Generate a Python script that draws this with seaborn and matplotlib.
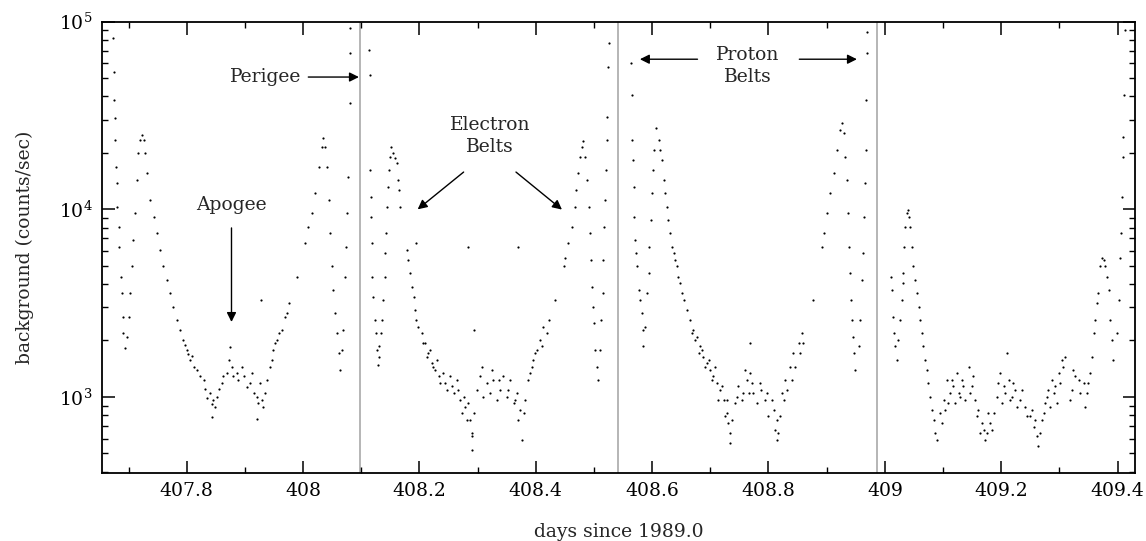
import numpy as np
import pandas as pd
import matplotlib
matplotlib.use('Agg')
import matplotlib.pyplot as plt
import matplotlib.ticker as mticker
import seaborn as sns

# background rate, one list pair per orbit
orbit1_days = [
    407.674, 407.675, 407.675, 407.676, 407.677, 407.679, 407.680, 407.681, 407.683, 407.684,
    407.687, 407.688, 407.690, 407.691, 407.694,
    407.697, 407.700, 407.703, 407.706, 407.708, 407.711, 407.714, 407.717, 407.720, 407.723,
    407.726, 407.728, 407.731, 407.737, 407.743, 407.749, 407.754, 407.760, 407.766, 407.772,
    407.777, 407.783, 407.789, 407.794, 407.800, 407.806, 407.817, 407.829, 407.840, 407.846,
    407.852, 407.860, 407.869, 407.878, 407.886, 407.898, 407.909, 407.920, 407.929, 407.938,
    407.943, 407.949, 407.955, 407.963, 407.969, 407.975, 407.989, 408.004, 408.009, 408.015,
    408.021, 408.027, 408.032, 408.035, 408.038, 408.041, 408.044, 408.047, 408.049, 408.052,
    408.055, 408.058, 408.061, 408.063, 408.067, 408.069, 408.072, 408.074, 408.076, 408.078,
    408.080, 408.081, 408.081,
    407.797, 407.803, 407.809, 407.812, 407.823, 407.832, 407.835, 407.843, 407.849, 407.855,
    407.863, 407.872, 407.875, 407.880, 407.889, 407.895, 407.903, 407.912, 407.915, 407.923,
    407.926, 407.932, 407.935, 407.946, 407.952, 407.958, 407.972, 407.928, 407.843, 407.920,
]
orbit1_counts = [
    81600, 54200, 38300, 30600, 23400, 16900, 13800, 10300, 8090, 6330,
    4380, 3570, 2680, 2190, 1820,
    2100, 2680, 3570, 4960, 6870, 9530, 14300, 19900, 23400, 24900,
    23400, 19900, 15600, 11200, 9150, 7460, 6080, 4960, 4210, 3570,
    3030, 2580, 2280, 2010, 1780, 1580, 1390, 1230, 1050, 965,
    1000, 1190, 1340, 1450, 1340, 1290, 1180, 1000, 965, 1230,
    1450, 1780, 2010, 2280, 2680, 3160, 4380, 6590, 8090, 9530,
    12200, 16900, 21600, 23900, 21600, 16900, 11200, 7460, 4960, 3720,
    2790, 2190, 1710, 1390, 1780, 2280, 4380, 6330, 9530, 14900,
    36700, 67800, 92300,
    1900, 1700, 1650, 1450, 1290, 1100, 985, 920, 880, 1100,
    1290, 1580, 1850, 1290, 1230, 1450, 1130, 1340, 1050, 930,
    1180, 880, 1050, 1580, 1950, 2190, 2800, 3290, 780, 760,
]

orbit2_days = [
    408.113, 408.115, 408.115, 408.116, 408.117, 408.118, 408.119, 408.121, 408.123, 408.125,
    408.127, 408.128,
    408.130, 408.131, 408.134, 408.136, 408.138, 408.140, 408.141, 408.143, 408.145, 408.146,
    408.147, 408.150, 408.152,
    408.155, 408.158, 408.161, 408.163, 408.165, 408.166,
    408.178, 408.181, 408.184, 408.187, 408.190, 408.193, 408.195, 408.198, 408.204, 408.210,
    408.215, 408.221, 408.227, 408.233, 408.244, 408.256, 408.267, 408.279, 408.287, 408.290,
    408.290,
    408.307, 408.324, 408.336, 408.353, 408.364, 408.373, 408.376,
    408.387, 408.393, 408.399, 408.410, 408.419, 408.422, 408.433, 408.448, 408.450, 408.456,
    408.462, 408.468, 408.470, 408.473, 408.476, 408.479, 408.482,
    408.485, 408.488, 408.491, 408.493, 408.495, 408.496, 408.498, 408.500, 408.502, 408.505,
    408.507,
    408.511, 408.512, 408.515, 408.516, 408.518, 408.519, 408.520, 408.522, 408.523, 408.525,
    408.526,
    408.207, 408.213, 408.218, 408.224, 408.230, 408.236, 408.241, 408.247, 408.253, 408.259,
    408.264, 408.270, 408.273, 408.276, 408.281, 408.284, 408.293, 408.299, 408.304, 408.310,
    408.316, 408.321, 408.327, 408.333, 408.339, 408.344, 408.350, 408.356, 408.362, 408.367,
    408.370, 408.379, 408.382, 408.390, 408.396, 408.402, 408.407, 408.413,
    408.195, 408.284, 408.370, 408.293, 408.290,
]
orbit2_counts = [
    70600, 52000, 16200, 11700, 9150, 6590, 4380, 3430, 2580, 2190,
    1780, 1480,
    1640, 1860, 2190, 2580, 3290, 4380, 5840, 7460, 10300, 13200,
    16200, 19100, 21600,
    19900, 18700, 17600, 14300, 12700, 10300,
    6080, 5370, 4560, 3870, 3430, 2910, 2580, 2370, 2190, 1930,
    1710, 1510, 1390, 1290, 1180, 1140, 1090, 889, 755, 641,
    523,
    1450, 1390, 1230, 1090, 965, 854, 590,
    1230, 1450, 1710, 1860, 2190, 2580, 3290, 4960, 5500, 6590,
    8090, 10300, 12700, 15600, 19100, 21600, 23000,
    19100, 14300, 10300, 7460, 5370, 3870, 3030, 2470, 1780, 1450,
    1230,
    1780, 2580, 3570, 5370, 8090, 11200, 16200, 23400, 31200, 57600,
    76700,
    1930, 1640, 1780, 1450, 1580, 1180, 1340, 1090, 1290, 1050,
    1230, 965, 820, 1000, 755, 930, 820, 1090, 1290, 1000,
    1180, 1050, 1230, 965, 1090, 1290, 1000, 1230, 930, 1050,
    755, 820, 965, 1340, 1580, 1780, 2010, 2370,
    6590, 6330, 6330, 2280, 620,
]

orbit3_days = [
    408.563, 408.565, 408.565, 408.567, 408.568, 408.569, 408.571, 408.572, 408.574, 408.577,
    408.579, 408.582, 408.584, 408.585,
    408.588, 408.591, 408.594, 408.595, 408.598, 408.599, 408.601, 408.603, 408.607,
    408.611, 408.614, 408.617, 408.620, 408.622, 408.625, 408.628, 408.631, 408.634, 408.637,
    408.640, 408.642, 408.645, 408.648, 408.651, 408.654, 408.660, 408.665, 408.671, 408.677,
    408.683, 408.688, 408.694, 408.700, 408.705, 408.711, 408.717, 408.723, 408.728, 408.731,
    408.734,
    408.746, 408.757, 408.763, 408.768, 408.774, 408.786, 408.797, 408.809, 408.814, 408.817,
    408.826, 408.832, 408.840, 408.846, 408.854, 408.860, 408.877, 408.892, 408.895, 408.900,
    408.906, 408.912, 408.917, 408.923, 408.926,
    408.929, 408.932, 408.935, 408.937, 408.939, 408.940, 408.942, 408.943, 408.945, 408.947,
    408.949,
    408.955, 408.958, 408.960, 408.962, 408.964, 408.966, 408.967, 408.968, 408.969, 408.969,
    408.668, 408.674, 408.680, 408.685, 408.691, 408.697, 408.703, 408.708, 408.714, 408.720,
    408.725, 408.728, 408.737, 408.734, 408.743, 408.748, 408.754, 408.760, 408.766, 408.771,
    408.780, 408.788, 408.794, 408.800, 408.806, 408.811, 408.814, 408.820, 408.823, 408.829,
    408.837, 408.843, 408.852, 408.857, 408.768,
]
orbit3_counts = [
    60000, 40600, 23400, 18300, 13200, 9150, 6870, 5840, 4960, 3720,
    3290, 2790, 2280, 1860,
    2370, 3570, 4560, 6330, 8790, 12200, 16200, 20700, 27000,
    23400, 20700, 18300, 14300, 12200, 10300, 8790, 7460, 6330, 5840,
    5370, 4960, 4380, 4040, 3570, 3290, 2910, 2580, 2280, 2100,
    1860, 1640, 1510, 1390, 1290, 1180, 1090, 965, 820, 724,
    641,
    1000, 1050, 1230, 1340, 1050, 1180, 1050, 854, 755, 641,
    965, 1090, 1230, 1450, 1710, 1930, 3290, 6330, 7460, 9530,
    12200, 15600, 20700, 26500, 28700,
    25400, 19100, 14300, 9530, 6330, 4560, 3290, 2580, 2100, 1710,
    1390,
    1860, 2580, 4210, 5840, 9150, 13800, 20700, 38300, 67800, 88500,
    2190, 2010, 1710, 1780, 1450, 1580, 1230, 1450, 965, 1140,
    787, 965, 755, 570, 930, 1140, 965, 1390, 1050, 1180,
    930, 1090, 965, 787, 965, 665, 590, 787, 1050, 1230,
    1450, 1710, 1930, 2190, 1930,
]

orbit4_days = [
    409.010, 409.012, 409.014, 409.016, 409.018, 409.021,
    409.023, 409.026, 409.029, 409.031, 409.032, 409.033, 409.035, 409.038, 409.039,
    409.041, 409.044, 409.046, 409.049, 409.052, 409.055, 409.058, 409.061, 409.064, 409.066,
    409.069, 409.072, 409.075, 409.078, 409.081, 409.084, 409.087, 409.089,
    409.095, 409.101, 409.107, 409.112, 409.118, 409.124, 409.130, 409.135, 409.144, 409.150,
    409.155, 409.161, 409.167, 409.170, 409.175, 409.181, 409.187, 409.193, 409.198, 409.204,
    409.210, 409.213, 409.218, 409.224, 409.233, 409.241, 409.250, 409.256, 409.261, 409.264,
    409.270, 409.276, 409.281, 409.287, 409.293, 409.299, 409.304, 409.310, 409.319, 409.324,
    409.333, 409.342, 409.347, 409.353,
    409.098, 409.104, 409.109, 409.115, 409.121, 409.127, 409.132, 409.138, 409.147, 409.152,
    409.158, 409.164, 409.172, 409.178, 409.184, 409.195, 409.201, 409.207, 409.215, 409.221,
    409.227, 409.236, 409.244, 409.253, 409.258, 409.267, 409.273, 409.278, 409.284, 409.290,
    409.296, 409.301, 409.307, 409.321, 409.327, 409.336, 409.344, 409.350,
    409.356, 409.359, 409.362, 409.364, 409.367, 409.370, 409.373, 409.376,
    409.379, 409.382, 409.385, 409.387, 409.390, 409.393,
    409.399, 409.402, 409.405, 409.406, 409.407, 409.409, 409.410, 409.411, 409.413,
]
orbit4_counts = [
    4380, 3720, 2680, 2190, 1860, 1580,
    2010, 2580, 3290, 4040, 4560, 6330, 8090, 9530, 9930,
    9150, 8090, 6330, 4960, 4210, 3570, 3030, 2580, 2190, 1860,
    1580, 1390, 1180, 1000, 854, 755, 641, 590,
    820, 965, 1230, 1050, 1140, 1340, 1000, 1140, 1450, 1140,
    965, 854, 724, 665, 641, 724, 820, 1000, 1340, 1140,
    1710, 1230, 1000, 1090, 965, 889, 787, 695, 617, 545,
    755, 930, 1090, 1230, 1140, 1340, 1580, 1640, 965, 1390,
    1230, 1180, 1050, 1340,
    724, 854, 930, 1230, 930, 1050, 1230, 965, 1050, 1290,
    787, 641, 590, 820, 665, 1180, 930, 1050, 965, 1180,
    889, 1090, 787, 854, 755, 641, 820, 1000, 889, 1050,
    930, 1180, 1450, 1090, 1290, 1050, 889, 1180,
    1640, 2190, 2580, 3160, 3570, 4960, 5500, 5400,
    4960, 4380, 3720, 2580, 2010, 1580,
    2190, 3290, 5500, 7460, 11700, 19100, 24400, 40600, 90300,
]

perigee_days = [408.098, 408.542, 408.986]
xtick_values = [407.8, 408.0, 408.2, 408.4, 408.6, 408.8, 409.0, 409.2, 409.4]
xtick_labels = ['407.8', '408', '408.2', '408.4', '408.6', '408.8', '409', '409.2', '409.4']

df = pd.DataFrame({
    'day': orbit1_days + orbit2_days + orbit3_days + orbit4_days,
    'counts': orbit1_counts + orbit2_counts + orbit3_counts + orbit4_counts,
})

sns.set_style('ticks')
plt.rcParams['font.family'] = ['DejaVu Serif']
plt.rcParams['mathtext.fontset'] = 'dejavuserif'

fig = plt.figure(figsize=(11.46, 5.41), dpi=100)
ax = fig.add_axes([0.0893, 0.1263, 0.9011, 0.8336])

sns.scatterplot(data=df, x='day', y='counts', ax=ax, color='black',
                s=2.5, marker='o', linewidth=0, legend=False)

for d in perigee_days:
    ax.axvline(d, color='#b5b5b5', lw=1.4, zorder=0)

ax.set_yscale('log')
ax.set_xlim(407.655, 409.430)
ax.set_ylim(395, 1e5)
ax.set_xticks(xtick_values)
ax.set_xticklabels(xtick_labels)
ax.xaxis.set_minor_locator(mticker.MultipleLocator(0.1))
ax.yaxis.set_minor_locator(mticker.LogLocator(base=10, subs=np.arange(2, 10)))
ax.yaxis.set_minor_formatter(mticker.NullFormatter())

ax.tick_params(which='both', direction='in', top=True, right=True,
               labelsize=13.5, colors='black')
ax.tick_params(which='major', length=9, width=1.1, pad=7)
ax.tick_params(which='minor', length=4.5, width=1.0)
for sp in ax.spines.values():
    sp.set_linewidth(1.3)
    sp.set_color('black')

ax.set_xlabel('days since 1989.0', fontsize=13.5, labelpad=16)
ax.set_ylabel('background (counts/sec)', fontsize=13.5, labelpad=18)

arrow = dict(arrowstyle='-|>', color='black', lw=1.0, mutation_scale=14, shrinkA=0, shrinkB=0)
txt = dict(fontsize=13.5, ha='center', va='center')

ax.text(407.935, 50700, 'Perigee', **txt)
ax.annotate('', xy=(408.096, 50700), xytext=(408.009, 50700), arrowprops=arrow)

ax.text(407.877, 10500, 'Apogee', **txt)
ax.annotate('', xy=(407.877, 2510), xytext=(407.877, 7960), arrowprops=arrow)

ax.text(408.3215, 24600, 'Electron\nBelts', linespacing=1.3, **txt)
ax.annotate('', xy=(408.197, 10000), xytext=(408.276, 15800), arrowprops=arrow)
ax.annotate('', xy=(408.445, 9970), xytext=(408.366, 15800), arrowprops=arrow)

ax.text(408.765, 58100, 'Proton\nBelts', linespacing=1.3, **txt)
ax.annotate('', xy=(408.579, 63100), xytext=(408.678, 63100), arrowprops=arrow)
ax.annotate('', xy=(408.952, 63100), xytext=(408.853, 63100), arrowprops=arrow)

fig.savefig('out.png', dpi=100)
